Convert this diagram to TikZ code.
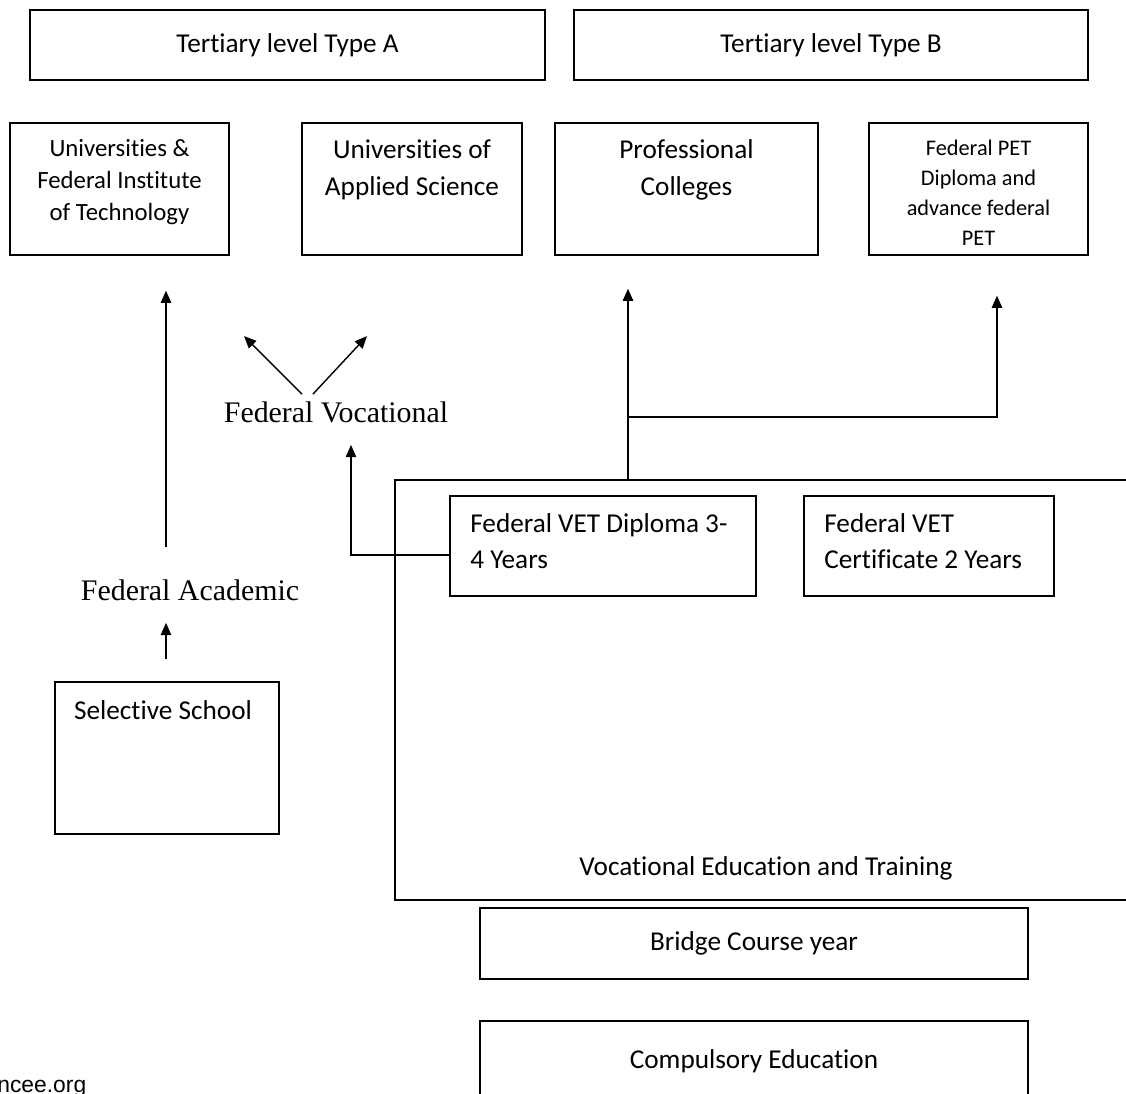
\documentclass[tikz,border=0pt]{standalone}
\usepackage{fontspec}
\newfontfamily\carl[Ligatures=NoCommon]{Carlito}
\newfontfamily\tms{Liberation Serif}
\newfontfamily\arl{Liberation Sans}
\usetikzlibrary{arrows.meta, calc, positioning}

\begin{document}
\begin{tikzpicture}[
		x=0.02cm, y=-0.02cm,
		box/.style={draw, line width=0.8pt, inner sep=0pt, align=center, font=\carl\fontsize{15.5}{19}\selectfont},
		boxtext/.style={inner sep=0pt, align=center, font=\carl\fontsize{15.5}{19.5}\selectfont},
		route/.style={inner sep=0pt, font=\tms\fontsize{17}{20}\selectfont},
		flow/.style={line width=0.8pt},
		arr/.style={flow, ->},
		>={Triangle[length=7pt, width=6pt]}
		]
	\useasboundingbox (0,0) rectangle (1126,1093);

		% --- Tertiary level ---
		\node[box, minimum width=10.3cm, minimum height=1.4cm] (tA) at (287.5,45) {Tertiary level Type A};
		\node[box, minimum width=10.28cm, minimum height=1.4cm] (tB) at (831,45) {Tertiary level Type B};

		\node[box, minimum width=4.38cm, minimum height=2.64cm] (uni) at (119.5,189) {};
		\node[boxtext, font=\carl\fontsize{14.1}{18.4}\selectfont] (uni-txt) at (119.5,182) {Universities \&\\Federal Institute\\of Technology};
		\node[box, minimum width=4.4cm, minimum height=2.64cm] (uas) at (412,189) {};
		\node[boxtext, font=\carl\fontsize{15.5}{21}\selectfont] (uas-txt) at (412,170) {Universities of\\Applied Science};
		\node[box, minimum width=5.26cm, minimum height=2.64cm] (pc) at (686.5,189) {};
		\node[boxtext, font=\carl\fontsize{15.5}{21}\selectfont] (pc-txt) at (686.5,170) {Professional\\Colleges};
		\node[box, minimum width=4.38cm, minimum height=2.64cm] (pet) at (978.5,189) {};
		\node[boxtext, font=\carl\fontsize{12.7}{17}\selectfont] (pet-txt) at (978.5,193) {Federal PET\\Diploma and\\advance federal\\PET};

		% --- Vocational Education and Training ---
		\node[box, minimum width=14.9cm, minimum height=8.4cm] (vet) at (767.5,690) {};
		\node[boxtext] (vet-txt) at (766,868) {Vocational Education and Training};
		\node[box, minimum width=6.12cm, minimum height=2cm] (dip) at (603,546) {};
		\node[boxtext, align=left, anchor=west, font=\carl\fontsize{15.5}{20.4}\selectfont] (dip-txt) at (470,541) {Federal VET Diploma 3-\\4 Years};
		\node[box, minimum width=5cm, minimum height=2cm] (cert) at (929,546) {};
		\node[boxtext, align=left, anchor=west, font=\carl\fontsize{15.5}{20.4}\selectfont] (cert-txt) at (824,541) {Federal VET\\Certificate 2 Years};

		% --- Selective School, Bridge Course, Compulsory Education ---
		\node[box, minimum width=4.48cm, minimum height=3.04cm] (sel) at (167,758) {};
		\node[boxtext] (sel-txt) at (163,710) {Selective School};
		\node[box, minimum width=10.96cm, minimum height=1.42cm] (bridge) at (754,943.5) {Bridge Course year};
		\node[box, minimum width=10.96cm, minimum height=1.98cm] (comp) at (754,1070.5) {};
		\node[boxtext] (comp-txt) at (754,1061) {Compulsory Education};

		% --- Routes ---
		\node[route] (fvoc) at (336,412) {Federal Vocational};
		\node[route] (fac) at (190,590) {Federal Academic};

		\node[inner sep=0pt, anchor=base west, font=\arl\fontsize{13}{15}\selectfont] (src) at (-3,1092) {ncee.org};

		% --- Connectors ---
		\draw[arr, shorten <=0.44cm, shorten >=0.44cm] ([xshift=-0.02cm]sel.north) -- ([xshift=-0.02cm]sel.north |- fac.south);
		\draw[arr, shorten <=0.64cm, shorten >=0.7cm] ([xshift=-0.02cm]sel.north |- fac.north) -- ([xshift=-0.02cm]sel.north |- uni.south);

		\draw[arr] ([xshift=-0.68cm, yshift=0.14cm]fvoc.north) -- ++(-58,-58);
		\draw[arr] ([xshift=-0.46cm, yshift=0.14cm]fvoc.north) -- ++(54,-58);
		\draw[arr, shorten >=0.44cm] ([yshift=-0.18cm]dip.west) -| ([xshift=0.3cm]fvoc.south);

		\coordinate (split) at (628,417);
		\draw[arr, shorten >=0.66cm] (vet.north -| split) -- (pc.south -| split);
		\draw[arr, shorten >=0.8cm] (split) -| ([xshift=0.37cm]pet.south);

	\end{tikzpicture}
\end{document}
